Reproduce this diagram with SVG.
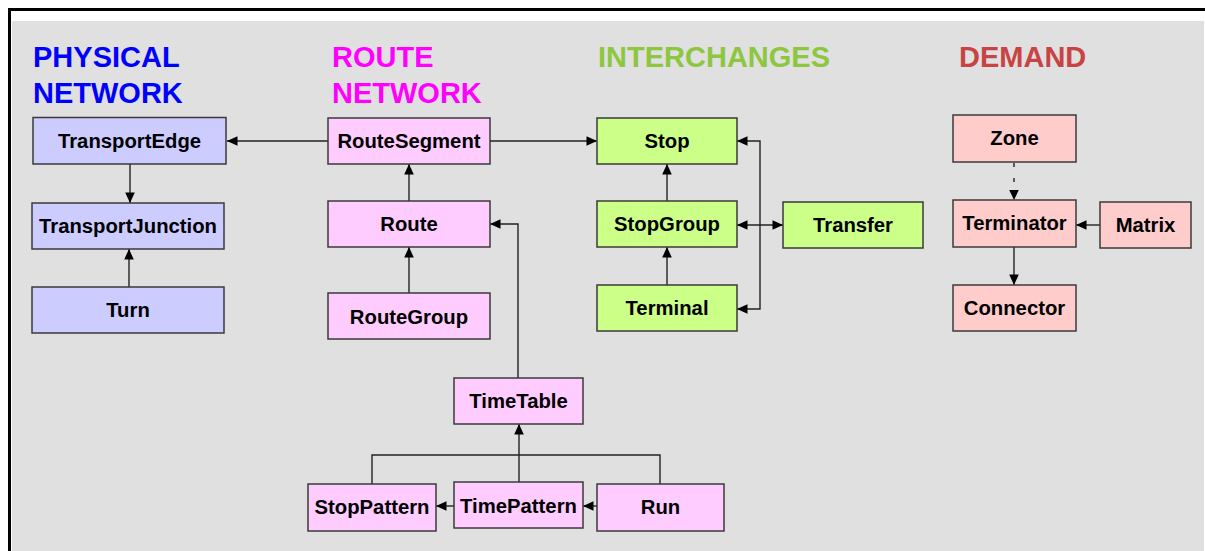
<svg xmlns="http://www.w3.org/2000/svg" width="1205" height="551" viewBox="0 0 1205 551">
  <style>
    .title { font-family: "Liberation Sans", Arial, sans-serif; font-weight: bold; font-size: 29px; }
    .box { stroke: #3a3a3a; stroke-width: 1.5; }
    .phys { fill: #CCCCFF; }
    .route { fill: #FFCCFF; }
    .inter { fill: #CCFF88; }
    .demand { fill: #FFCCCC; }
    .label { font-family: "Liberation Sans", Arial, sans-serif; font-weight: bold; font-size: 20.3px; fill: #000; text-anchor: middle; }
    .conn { fill: none; stroke: #222; stroke-width: 1.4; }
    .arrow { marker-end: url(#head); }
    .both { marker-start: url(#tail); marker-end: url(#head); }
  </style>
  <defs>
    <marker id="head" markerUnits="userSpaceOnUse" markerWidth="12" markerHeight="12" viewBox="0 0 12 12" refX="11" refY="6" orient="auto">
      <path d="M0.5,1.2 L11,6 L0.5,10.8 Z" fill="#000"/>
    </marker>
    <marker id="tail" markerUnits="userSpaceOnUse" markerWidth="12" markerHeight="12" viewBox="0 0 12 12" refX="1" refY="6" orient="auto">
      <path d="M11.5,1.2 L1,6 L11.5,10.8 Z" fill="#000"/>
    </marker>
  </defs>

  <!-- page frame and canvas -->
  <rect x="0" y="0" width="1205" height="551" fill="#fff"/>
  <path d="M9.5,551 V9.5 H1205" fill="none" stroke="#000" stroke-width="3"/>
  <rect x="12" y="21" width="1192" height="530" fill="#E0E0E0"/>

  <!-- section headings -->
  <g id="headings">
    <text class="title" x="33" y="67" fill="#0000FF">PHYSICAL</text>
    <text class="title" x="33" y="103" fill="#0000FF">NETWORK</text>
    <text class="title" x="332" y="67" fill="#FF00FF">ROUTE</text>
    <text class="title" x="332" y="103" fill="#FF00FF">NETWORK</text>
    <text class="title" x="598" y="67" fill="#8DC63F">INTERCHANGES</text>
    <text class="title" x="959" y="67" fill="#C84444">DEMAND</text>
  </g>

  <!-- connectors -->
  <g id="connectors">
    <!-- physical network -->
    <path class="conn arrow" d="M328,141 H227"/>
    <path class="conn arrow" d="M130,164 V203"/>
    <path class="conn arrow" d="M129,287 V249"/>
    <!-- route network -->
    <path class="conn arrow" d="M490,141 H597"/>
    <path class="conn arrow" d="M409,201 V164"/>
    <path class="conn arrow" d="M409,293 V247"/>
    <path class="conn arrow" d="M518,378 V224 H490"/>
    <path class="conn arrow" d="M519,482 V424"/>
    <path class="conn" d="M372,484 V455 H660 V484"/>
    <path class="conn arrow" d="M454,506 H436"/>
    <path class="conn arrow" d="M597,506 H583"/>
    <!-- interchanges -->
    <path class="conn arrow" d="M667,201 V164"/>
    <path class="conn arrow" d="M667,285 V247"/>
    <path class="conn both" d="M737,225 H783"/>
    <path class="conn arrow" d="M760,225 V141 H737"/>
    <path class="conn arrow" d="M760,225 V309 H737"/>
    <!-- demand -->
    <path class="conn" d="M1014,163 V191" stroke-dasharray="4 11"/>
    <path d="M1009.2,190 L1014,200 L1018.8,190 Z" fill="#000"/>
    <path class="conn arrow" d="M1100,225 H1076"/>
    <path class="conn arrow" d="M1014,247 V285"/>
  </g>

  <!-- physical network nodes -->
  <g id="TransportEdge">
    <rect class="box phys" x="33" y="117.5" width="193" height="46.5"/>
    <text class="label" x="129.5" y="148">TransportEdge</text>
  </g>
  <g id="TransportJunction">
    <rect class="box phys" x="32" y="203" width="192" height="46"/>
    <text class="label" x="128" y="233">TransportJunction</text>
  </g>
  <g id="Turn">
    <rect class="box phys" x="32" y="287" width="192" height="46"/>
    <text class="label" x="128" y="317">Turn</text>
  </g>

  <!-- route network nodes -->
  <g id="RouteSegment">
    <rect class="box route" x="328" y="118" width="162" height="46"/>
    <text class="label" x="409" y="148">RouteSegment</text>
  </g>
  <g id="Route">
    <rect class="box route" x="328" y="201" width="162" height="46"/>
    <text class="label" x="409" y="231">Route</text>
  </g>
  <g id="RouteGroup">
    <rect class="box route" x="328" y="293" width="162" height="46"/>
    <text class="label" x="409" y="324">RouteGroup</text>
  </g>
  <g id="TimeTable">
    <rect class="box route" x="454" y="378" width="129" height="46"/>
    <text class="label" x="518.5" y="408">TimeTable</text>
  </g>
  <g id="StopPattern">
    <rect class="box route" x="308" y="484" width="128" height="47"/>
    <text class="label" x="372" y="514">StopPattern</text>
  </g>
  <g id="TimePattern">
    <rect class="box route" x="454" y="482" width="129" height="46"/>
    <text class="label" x="518.5" y="513">TimePattern</text>
  </g>
  <g id="Run">
    <rect class="box route" x="597" y="484" width="127" height="47"/>
    <text class="label" x="660.5" y="514">Run</text>
  </g>

  <!-- interchange nodes -->
  <g id="Stop">
    <rect class="box inter" x="597" y="118" width="140" height="46"/>
    <text class="label" x="667" y="148">Stop</text>
  </g>
  <g id="StopGroup">
    <rect class="box inter" x="597" y="201" width="140" height="46"/>
    <text class="label" x="667" y="231">StopGroup</text>
  </g>
  <g id="Terminal">
    <rect class="box inter" x="597" y="285" width="140" height="46"/>
    <text class="label" x="667" y="315">Terminal</text>
  </g>
  <g id="Transfer">
    <rect class="box inter" x="783" y="202" width="140" height="46"/>
    <text class="label" x="853" y="232">Transfer</text>
  </g>

  <!-- demand nodes -->
  <g id="Zone">
    <rect class="box demand" x="953" y="115" width="123" height="47"/>
    <text class="label" x="1014.5" y="145">Zone</text>
  </g>
  <g id="Terminator">
    <rect class="box demand" x="953" y="200" width="123" height="47"/>
    <text class="label" x="1014.5" y="230">Terminator</text>
  </g>
  <g id="Matrix">
    <rect class="box demand" x="1100" y="202" width="91" height="46"/>
    <text class="label" x="1145.5" y="232">Matrix</text>
  </g>
  <g id="Connector">
    <rect class="box demand" x="953" y="285" width="123" height="46"/>
    <text class="label" x="1014.5" y="315">Connector</text>
  </g>
</svg>
